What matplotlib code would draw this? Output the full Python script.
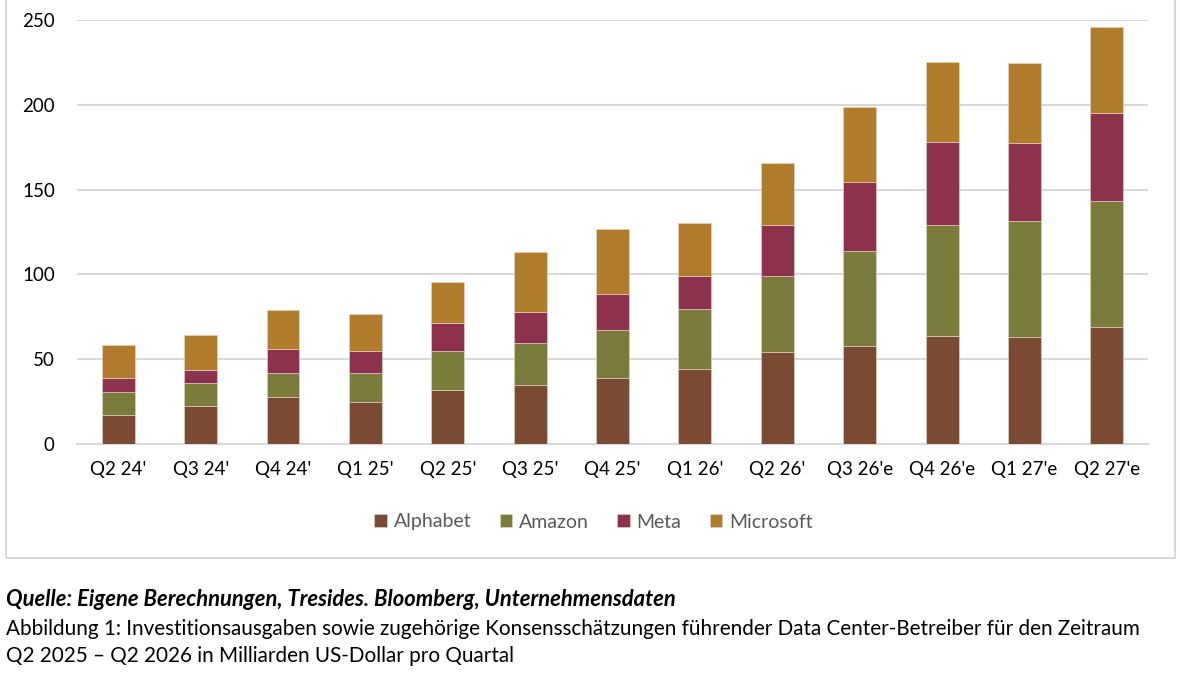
import numpy as np
import matplotlib.pyplot as plt
from matplotlib.patches import Rectangle

plt.rcParams['font.family'] = ['Lato', 'DejaVu Sans']

# data (Mrd. USD pro Quartal)
quarters = ["Q2 24'", "Q3 24'", "Q4 24'", "Q1 25'", "Q2 25'", "Q3 25'", "Q4 25'",
            "Q1 26'", "Q2 26'", "Q3 26'e", "Q4 26'e", "Q1 27'e", "Q2 27'e"]
alphabet = [17.2, 22.3, 27.6, 24.7, 32.0, 35.0, 38.9, 44.5, 54.3, 57.8, 63.9, 63.3, 69.1]
amazon = [13.6, 13.4, 14.5, 17.4, 22.7, 24.3, 28.4, 35.3, 45.0, 55.8, 65.3, 68.1, 74.4]
meta = [8.1, 8.2, 14.0, 12.8, 16.4, 18.7, 21.4, 19.2, 30.1, 40.6, 49.1, 45.9, 51.5]
microsoft = [19.2, 20.1, 22.9, 21.7, 24.3, 35.2, 37.9, 31.4, 36.0, 44.6, 46.9, 47.6, 50.6]

names = ["Alphabet", "Amazon", "Meta", "Microsoft"]
colors = ["#7a4a33", "#7b7b3c", "#8d324c", "#b07b2b"]

fig = plt.figure(figsize=(11.8, 6.76), dpi=100)
ax = fig.add_axes([0.0653, 0.3432, 0.9076, 0.6272])

x = np.arange(len(quarters))
bottom = np.zeros(len(quarters))
for name, vals, c in zip(names, [alphabet, amazon, meta, microsoft], colors):
    ax.bar(x, vals, 0.4, bottom=bottom, color=c, label=name,
           edgecolor="#e8d8c8", linewidth=0.4, zorder=3)
    bottom += np.array(vals)

ax.set_xlim(-0.5, len(quarters) - 0.5)
ax.set_ylim(0, 250)
ax.set_yticks(range(0, 251, 50))
ax.set_xticks(x)
ax.set_xticklabels(quarters)
ax.grid(axis="y", color="#d9d9d9", linewidth=1.5, zorder=0)
for s in ["top", "right", "left"]:
    ax.spines[s].set_visible(False)
ax.spines["bottom"].set_color("#d9d9d9")
ax.spines["bottom"].set_linewidth(1.5)
ax.tick_params(axis="y", length=0, pad=16, labelsize=13.5)
ax.tick_params(axis="x", length=0, pad=12, labelsize=13.5)

fig.legend(loc="center", bbox_to_anchor=(0.503, 1 - 522 / 676), ncol=4,
           frameon=False, fontsize=14, labelcolor="#595959",
           handlelength=0.65, handleheight=0.65, handletextpad=0.35,
           columnspacing=1.45)

# border round the chart
fig.patches.append(Rectangle((6 / 1180, 118 / 676), 1169 / 1180, 0.9,
                             transform=fig.transFigure, fill=False,
                             edgecolor="#d9d9d9", linewidth=1.5))

fig.text(6 / 1180, 1 - 600 / 676, "Quelle: Eigene Berechnungen, Tresides. Bloomberg, Unternehmensdaten",
         fontsize=15.8, fontweight="bold", fontstyle="italic", va="center")
fig.text(6 / 1180, 1 - 629 / 676, "Abbildung 1: Investitionsausgaben sowie zugehörige Konsensschätzungen "
         "führender Data Center-Betreiber für den Zeitraum", fontsize=14.9, va="center")
fig.text(6 / 1180, 1 - 656 / 676, "Q2 2025 – Q2 2026 in Milliarden US-Dollar pro Quartal",
         fontsize=14.9, va="center")

fig.savefig("out.png", dpi=100)
